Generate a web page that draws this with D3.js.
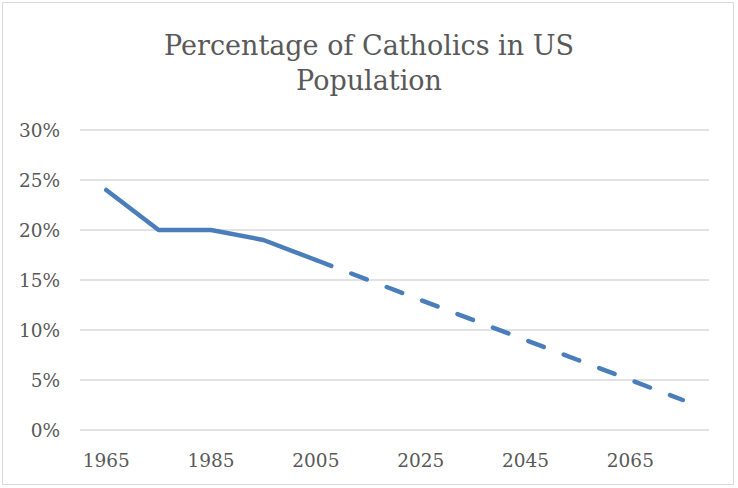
<!DOCTYPE html>
<html>
<head>
<meta charset="utf-8">
<script src="https://cdn.jsdelivr.net/npm/d3@7"></script>
<style>
  body { margin: 0; background: #fff; }
  text { font-family: "DejaVu Serif", serif; fill: #595959; }
</style>
</head>
<body>
<div id="chart"></div>
<script>
const years = ["1965", "1975", "1985", "1995", "2005", "2015", "2025", "2035", "2045", "2055", "2065", "2075"];
const actual = [24, 20, 20, 19, 17, null, null, null, null, null, null, null];
const projected = [null, null, null, null, 17, 15, 13, 11, 9, 7, 5, 3];
const yTicks = [0, 5, 10, 15, 20, 25, 30];
const xLabels = ["1965", "1985", "2005", "2025", "2045", "2065"];

const width = 738;
const height = 488;
const margin = { top: 130, right: 29, bottom: 58, left: 80 };

const svg = d3.select("#chart")
    .append("svg")
    .attr("width", width)
    .attr("height", height);

svg.append("rect")
    .attr("x", 2.5)
    .attr("y", 2.5)
    .attr("width", 731)
    .attr("height", 482)
    .attr("fill", "#fff")
    .attr("stroke", "#d9d9d9");

svg.append("text")
    .attr("x", 369)
    .attr("y", 55)
    .attr("text-anchor", "middle")
    .style("font-size", "27px")
    .text("Percentage of Catholics in US");

svg.append("text")
    .attr("x", 369)
    .attr("y", 90)
    .attr("text-anchor", "middle")
    .style("font-size", "27px")
    .text("Population");

const x = d3.scaleBand()
    .domain(years)
    .range([margin.left, width - margin.right]);

const y = d3.scaleLinear()
    .domain([0, 30])
    .range([height - margin.bottom, margin.top]);

// gridlines
svg.selectAll(".grid")
    .data(yTicks)
    .enter().append("line")
    .attr("x1", margin.left)
    .attr("x2", width - margin.right)
    .attr("y1", d => y(d))
    .attr("y2", d => y(d))
    .attr("stroke", "#d9d9d9")
    .attr("stroke-width", 1.3);

svg.selectAll(".ylab")
    .data(yTicks)
    .enter().append("text")
    .attr("x", 60)
    .attr("y", d => y(d))
    .attr("dy", "0.36em")
    .attr("text-anchor", "end")
    .style("font-size", "18.5px")
    .text(d => d + "%");

svg.selectAll(".xlab")
    .data(xLabels)
    .enter().append("text")
    .attr("x", d => x(d) + x.bandwidth() / 2)
    .attr("y", 467)
    .attr("text-anchor", "middle")
    .style("font-size", "18.5px")
    .text(d => d);

const line = d3.line()
    .defined(d => d != null)
    .x((d, i) => x(years[i]) + x.bandwidth() / 2)
    .y(d => y(d));

svg.append("path")
    .datum(actual)
    .attr("d", line)
    .attr("fill", "none")
    .attr("stroke", "#4a7ebb")
    .attr("stroke-width", 4.5)
    .attr("stroke-linecap", "round")
    .attr("stroke-linejoin", "round");

svg.append("path")
    .datum(projected)
    .attr("d", line)
    .attr("fill", "none")
    .attr("stroke", "#4a7ebb")
    .attr("stroke-width", 4.5)
    .attr("stroke-linecap", "round")
    .attr("stroke-dasharray", "16.5 21.4");
</script>
</body>
</html>
